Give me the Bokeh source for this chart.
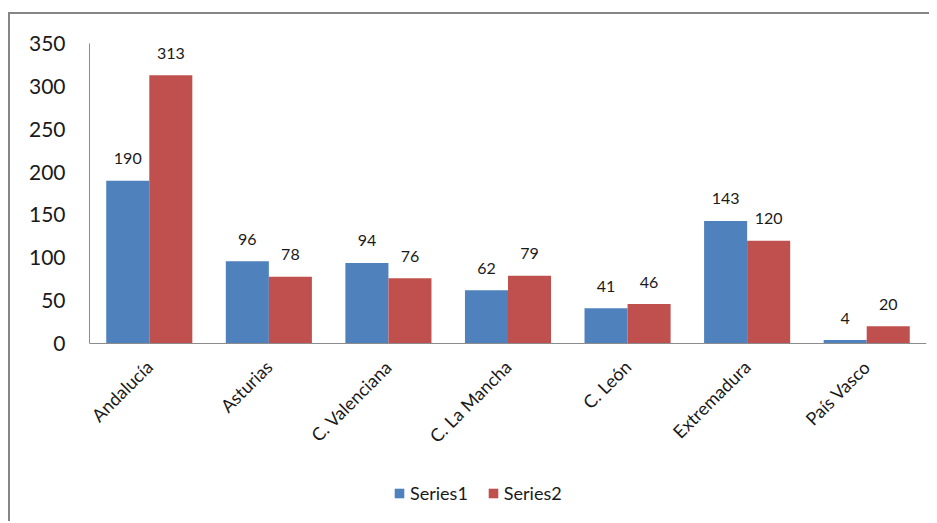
import math
from bokeh.plotting import figure
from bokeh.models import FactorRange, Range1d, Legend, LegendItem
from bokeh.transform import dodge
from bokeh.core.properties import value
from bokeh.embed import file_html
from bokeh.resources import INLINE

categories = ["Andalucía", "Asturias", "C. Valenciana", "C. La Mancha", "C. León", "Extremadura", "País Vasco"]
series1 = [190, 96, 94, 62, 41, 143, 4]
series2 = [313, 78, 76, 79, 46, 120, 20]
y_ticks = [0, 50, 100, 150, 200, 250, 300, 350]

FONT = "Lato"
BLUE = "#4F81BD"
RED = "#C0504D"
TXT = "#1a1a1a"

# layout: the frame extends below zero so that the rotated labels and the legend sit inside it
Y_MAX = 350
PLOT_PX = 300          # pixels from 0 to Y_MAX
FRAME_PX = 464         # full frame height
y_start = Y_MAX - FRAME_PX * Y_MAX / PLOT_PX

p = figure(x_range=FactorRange(*categories, range_padding=0),
           y_range=Range1d(y_start, Y_MAX),
           frame_width=837, frame_height=FRAME_PX, output_backend="svg", toolbar_location=None,
           min_border_left=79, min_border_right=3, min_border_top=29, min_border_bottom=14)
p.styles = {"border-top": "2px solid #858585", "border-left": "2px solid #858585",
            "margin-top": "12px", "margin-left": "8px"}
p.outline_line_color = None
p.grid.grid_line_color = None
p.background_fill_color = "white"
p.border_fill_color = "white"

data = dict(cat=categories, s1=series1, s2=series2,
            l1=[str(v) for v in series1], l2=[str(v) for v in series2])

r1 = p.vbar(x=dodge("cat", -0.18, range=p.x_range), top="s1", width=0.36, source=data,
            fill_color=BLUE, line_color=None)
r2 = p.vbar(x=dodge("cat", 0.18, range=p.x_range), top="s2", width=0.36, source=data,
            fill_color=RED, line_color=None)

p.text(x=dodge("cat", -0.18, range=p.x_range), y="s1", text="l1", source=data,
       text_font=value(FONT), text_font_size="16px", text_color=TXT,
       text_align="center", text_baseline="middle", y_offset=-22)
p.text(x=dodge("cat", 0.18, range=p.x_range), y="s2", text="l2", source=data,
       text_font=value(FONT), text_font_size="16px", text_color=TXT,
       text_align="center", text_baseline="middle", y_offset=-22)

# axes
p.yaxis.ticker = y_ticks
p.yaxis.bounds = (0, Y_MAX)
p.yaxis.major_tick_line_color = None
p.yaxis.minor_tick_line_color = None
p.yaxis.axis_line_color = "#8c8c8c"
p.yaxis.major_label_text_font = FONT
p.yaxis.major_label_text_font_size = "21px"
p.yaxis.major_label_text_color = TXT
p.yaxis.major_label_standoff = 18

p.xaxis.fixed_location = 0
p.xaxis.major_tick_line_color = None
p.xaxis.minor_tick_line_color = None
p.xaxis.axis_line_color = "#8c8c8c"
p.xaxis.major_label_orientation = math.pi / 4
p.xaxis.major_label_text_font = FONT
p.xaxis.major_label_text_font_size = "18px"
p.xaxis.major_label_text_color = TXT
p.xaxis.major_label_standoff = 14

legend = Legend(items=[LegendItem(label="Series1", renderers=[r1]),
                       LegendItem(label="Series2", renderers=[r2])],
                location=(304, 3), orientation="horizontal",
                glyph_width=12, glyph_height=12, label_standoff=5, spacing=19,
                padding=0, margin=0, border_line_color=None, background_fill_alpha=0,
                label_text_font=FONT, label_text_font_size="18px", label_text_color=TXT)
p.add_layout(legend, "center")

open("out.html", "w").write(file_html(p, INLINE))
